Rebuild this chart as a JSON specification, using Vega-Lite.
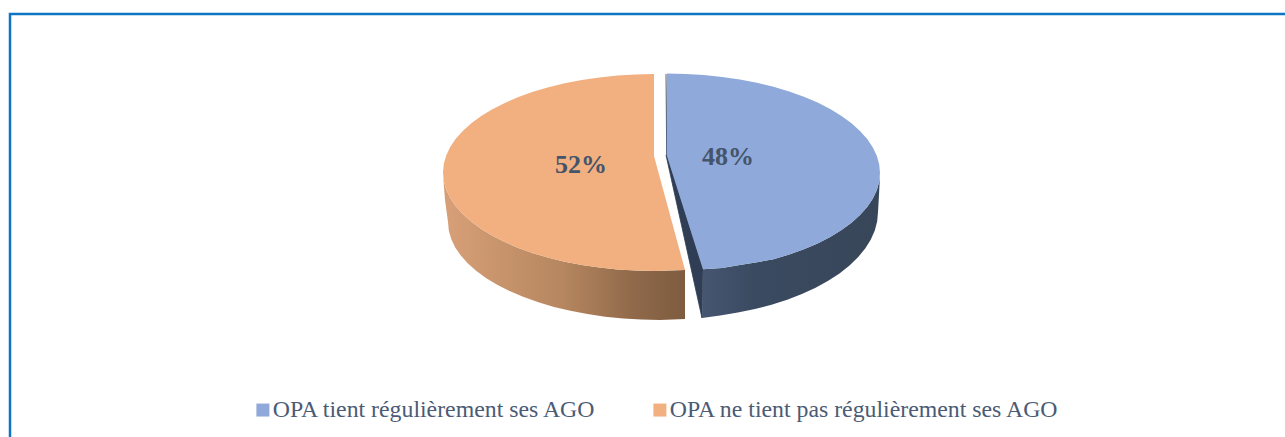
{"$schema":"https://vega.github.io/schema/vega-lite/v6.json","width":1285,"height":437,"padding":0,"autosize":{"type":"fit","contains":"padding"},"background":"white",
"config":{"view":{"stroke":null}},
"datasets":{
"frame":[{"i":0,"x":10,"y":437},{"i":1,"x":10,"y":14},{"i":2,"x":1285,"y":14}],
"labels":[{"category":"OPA tient régulièrement ses AGO","share":0.48,"x":728,"y":157},{"category":"OPA ne tient pas régulièrement ses AGO","share":0.52,"x":581,"y":165}],
"orangeSide":[{"i":0,"x":443,"y":175},{"i":1,"x":443.8,"y":181.1},{"i":2,"x":446.2,"y":189.6},{"i":3,"x":450.2,"y":198},{"i":4,"x":455.7,"y":206.2},{"i":5,"x":462.8,"y":214.1},{"i":6,"x":471.3,"y":221.8},{"i":7,"x":481.2,"y":229},{"i":8,"x":492.4,"y":235.8},{"i":9,"x":504.8,"y":242.1},{"i":10,"x":518.4,"y":248},{"i":11,"x":533,"y":253.2},{"i":12,"x":548.5,"y":257.8},{"i":13,"x":564.8,"y":261.8},{"i":14,"x":581.8,"y":265.1},{"i":15,"x":599.4,"y":267.6},{"i":16,"x":617.4,"y":269.5},{"i":17,"x":635.6,"y":270.6},{"i":18,"x":654,"y":271},{"i":19,"x":685,"y":270},{"i":20,"x":685,"y":319},{"i":21,"x":660,"y":320},{"i":22,"x":641.5,"y":319.6},{"i":23,"x":623.2,"y":318.5},{"i":24,"x":605.1,"y":316.7},{"i":25,"x":587.5,"y":314.1},{"i":26,"x":570.4,"y":310.8},{"i":27,"x":554,"y":306.9},{"i":28,"x":538.4,"y":302.3},{"i":29,"x":523.7,"y":297.1},{"i":30,"x":510.1,"y":291.3},{"i":31,"x":497.6,"y":285},{"i":32,"x":486.3,"y":278.2},{"i":33,"x":476.4,"y":271},{"i":34,"x":467.9,"y":263.4},{"i":35,"x":460.8,"y":255.5},{"i":36,"x":455.2,"y":247.4},{"i":37,"x":451.2,"y":239},{"i":38,"x":448.8,"y":230.5},{"i":39,"x":448,"y":222},{"i":40,"x":445,"y":200}],
"blueSide":[{"i":0,"x":703,"y":269.3},{"i":1,"x":722,"y":268},{"i":2,"x":739.8,"y":265},{"i":3,"x":757,"y":262.2},{"i":4,"x":773.5,"y":259.2},{"i":5,"x":789.2,"y":254.5},{"i":6,"x":803.9,"y":249.2},{"i":7,"x":817.6,"y":243.4},{"i":8,"x":830.2,"y":237},{"i":9,"x":841.5,"y":230.1},{"i":10,"x":851.5,"y":222.8},{"i":11,"x":860,"y":215.1},{"i":12,"x":867.2,"y":207},{"i":13,"x":872.7,"y":198.8},{"i":14,"x":876.8,"y":190.3},{"i":15,"x":879.2,"y":181.7},{"i":16,"x":880,"y":175},{"i":17,"x":879,"y":195},{"i":18,"x":878,"y":212},{"i":19,"x":877.2,"y":221.3},{"i":20,"x":874.8,"y":230.6},{"i":21,"x":870.7,"y":239.7},{"i":22,"x":865.2,"y":248.6},{"i":23,"x":858,"y":257.2},{"i":24,"x":849.5,"y":265.5},{"i":25,"x":839.5,"y":273.4},{"i":26,"x":828.2,"y":280.8},{"i":27,"x":815.6,"y":287.7},{"i":28,"x":801.9,"y":294},{"i":29,"x":787.2,"y":299.7},{"i":30,"x":771.5,"y":304.7},{"i":31,"x":755,"y":309},{"i":32,"x":737.8,"y":312.5},{"i":33,"x":720.1,"y":315.4},{"i":34,"x":702,"y":318}],
"blueCut":[{"i":0,"x":666,"y":74},{"i":1,"x":666.7,"y":155},{"i":2,"x":703,"y":269.3},{"i":3,"x":702,"y":318},{"i":4,"x":666,"y":155}],
"tops":[
{"category":"OPA tient régulièrement ses AGO","i":0,"x":666.7,"y":155},{"category":"OPA tient régulièrement ses AGO","i":1,"x":667,"y":73.5},{"category":"OPA tient régulièrement ses AGO","i":2,"x":685.6,"y":73.9},{"category":"OPA tient régulièrement ses AGO","i":3,"x":704,"y":75},{"category":"OPA tient régulièrement ses AGO","i":4,"x":722.1,"y":76.9},{"category":"OPA tient régulièrement ses AGO","i":5,"x":739.8,"y":79.5},{"category":"OPA tient régulièrement ses AGO","i":6,"x":757,"y":82.8},{"category":"OPA tient régulièrement ses AGO","i":7,"x":773.5,"y":86.8},{"category":"OPA tient régulièrement ses AGO","i":8,"x":789.2,"y":91.5},{"category":"OPA tient régulièrement ses AGO","i":9,"x":803.9,"y":96.8},{"category":"OPA tient régulièrement ses AGO","i":10,"x":817.6,"y":102.6},{"category":"OPA tient régulièrement ses AGO","i":11,"x":830.2,"y":109},{"category":"OPA tient régulièrement ses AGO","i":12,"x":841.5,"y":115.9},{"category":"OPA tient régulièrement ses AGO","i":13,"x":851.5,"y":123.3},{"category":"OPA tient régulièrement ses AGO","i":14,"x":860,"y":130.9},{"category":"OPA tient régulièrement ses AGO","i":15,"x":867.2,"y":139},{"category":"OPA tient régulièrement ses AGO","i":16,"x":872.7,"y":147.2},{"category":"OPA tient régulièrement ses AGO","i":17,"x":876.8,"y":155.7},{"category":"OPA tient régulièrement ses AGO","i":18,"x":879.2,"y":164.3},{"category":"OPA tient régulièrement ses AGO","i":19,"x":880,"y":173},{"category":"OPA tient régulièrement ses AGO","i":20,"x":879.2,"y":181.7},{"category":"OPA tient régulièrement ses AGO","i":21,"x":876.8,"y":190.3},{"category":"OPA tient régulièrement ses AGO","i":22,"x":872.7,"y":198.8},{"category":"OPA tient régulièrement ses AGO","i":23,"x":867.2,"y":207},{"category":"OPA tient régulièrement ses AGO","i":24,"x":860,"y":215.1},{"category":"OPA tient régulièrement ses AGO","i":25,"x":851.5,"y":222.8},{"category":"OPA tient régulièrement ses AGO","i":26,"x":841.5,"y":230.1},{"category":"OPA tient régulièrement ses AGO","i":27,"x":830.2,"y":237},{"category":"OPA tient régulièrement ses AGO","i":28,"x":817.6,"y":243.4},{"category":"OPA tient régulièrement ses AGO","i":29,"x":803.9,"y":249.2},{"category":"OPA tient régulièrement ses AGO","i":30,"x":789.2,"y":254.5},{"category":"OPA tient régulièrement ses AGO","i":31,"x":773.5,"y":259.2},{"category":"OPA tient régulièrement ses AGO","i":32,"x":757,"y":262.2},{"category":"OPA tient régulièrement ses AGO","i":33,"x":739.8,"y":265},{"category":"OPA tient régulièrement ses AGO","i":34,"x":722,"y":268},{"category":"OPA tient régulièrement ses AGO","i":35,"x":703,"y":269.3},
{"category":"OPA ne tient pas régulièrement ses AGO","i":0,"x":654,"y":156},{"category":"OPA ne tient pas régulièrement ses AGO","i":1,"x":654,"y":74},{"category":"OPA ne tient pas régulièrement ses AGO","i":2,"x":635.6,"y":74.4},{"category":"OPA ne tient pas régulièrement ses AGO","i":3,"x":617.4,"y":75.5},{"category":"OPA ne tient pas régulièrement ses AGO","i":4,"x":599.4,"y":77.4},{"category":"OPA ne tient pas régulièrement ses AGO","i":5,"x":581.8,"y":79.9},{"category":"OPA ne tient pas régulièrement ses AGO","i":6,"x":564.8,"y":83.2},{"category":"OPA ne tient pas régulièrement ses AGO","i":7,"x":548.5,"y":87.2},{"category":"OPA ne tient pas régulièrement ses AGO","i":8,"x":533,"y":91.8},{"category":"OPA ne tient pas régulièrement ses AGO","i":9,"x":518.4,"y":97},{"category":"OPA ne tient pas régulièrement ses AGO","i":10,"x":504.8,"y":102.9},{"category":"OPA ne tient pas régulièrement ses AGO","i":11,"x":492.4,"y":109.2},{"category":"OPA ne tient pas régulièrement ses AGO","i":12,"x":481.2,"y":116},{"category":"OPA ne tient pas régulièrement ses AGO","i":13,"x":471.3,"y":123.3},{"category":"OPA ne tient pas régulièrement ses AGO","i":14,"x":462.8,"y":130.9},{"category":"OPA ne tient pas régulièrement ses AGO","i":15,"x":455.7,"y":138.8},{"category":"OPA ne tient pas régulièrement ses AGO","i":16,"x":450.2,"y":147},{"category":"OPA ne tient pas régulièrement ses AGO","i":17,"x":446.2,"y":155.4},{"category":"OPA ne tient pas régulièrement ses AGO","i":18,"x":443.8,"y":163.9},{"category":"OPA ne tient pas régulièrement ses AGO","i":19,"x":443,"y":172.5},{"category":"OPA ne tient pas régulièrement ses AGO","i":20,"x":443.8,"y":181.1},{"category":"OPA ne tient pas régulièrement ses AGO","i":21,"x":446.2,"y":189.6},{"category":"OPA ne tient pas régulièrement ses AGO","i":22,"x":450.2,"y":198},{"category":"OPA ne tient pas régulièrement ses AGO","i":23,"x":455.7,"y":206.2},{"category":"OPA ne tient pas régulièrement ses AGO","i":24,"x":462.8,"y":214.1},{"category":"OPA ne tient pas régulièrement ses AGO","i":25,"x":471.3,"y":221.8},{"category":"OPA ne tient pas régulièrement ses AGO","i":26,"x":481.2,"y":229},{"category":"OPA ne tient pas régulièrement ses AGO","i":27,"x":492.4,"y":235.8},{"category":"OPA ne tient pas régulièrement ses AGO","i":28,"x":504.8,"y":242.1},{"category":"OPA ne tient pas régulièrement ses AGO","i":29,"x":518.4,"y":248},{"category":"OPA ne tient pas régulièrement ses AGO","i":30,"x":533,"y":253.2},{"category":"OPA ne tient pas régulièrement ses AGO","i":31,"x":548.5,"y":257.8},{"category":"OPA ne tient pas régulièrement ses AGO","i":32,"x":564.8,"y":261.8},{"category":"OPA ne tient pas régulièrement ses AGO","i":33,"x":581.8,"y":265.1},{"category":"OPA ne tient pas régulièrement ses AGO","i":34,"x":599.4,"y":267.6},{"category":"OPA ne tient pas régulièrement ses AGO","i":35,"x":617.4,"y":269.5},{"category":"OPA ne tient pas régulièrement ses AGO","i":36,"x":635.6,"y":270.6},{"category":"OPA ne tient pas régulièrement ses AGO","i":37,"x":654,"y":271},{"category":"OPA ne tient pas régulièrement ses AGO","i":38,"x":685,"y":270}
]},
"encoding":{"x":{"field":"x","type":"quantitative","axis":null,"scale":{"domain":[0,1285],"nice":false,"zero":false}},"y":{"field":"y","type":"quantitative","axis":null,"scale":{"domain":[437,0],"nice":false,"zero":false}},"order":{"field":"i","type":"ordinal"}},
"layer":[
{"data":{"name":"frame"},"mark":{"type":"line","stroke":"#0f75c3","strokeWidth":2.5,"strokeJoin":"miter","clip":true}},
{"data":{"name":"orangeSide"},"mark":{"type":"line","strokeWidth":0,"stroke":null,"fill":{"gradient":"linear","x1":0,"y1":0,"x2":1,"y2":0,"stops":[{"offset":0,"color":"#d8a078"},{"offset":0.5,"color":"#b5865f"},{"offset":0.8,"color":"#8e6849"},{"offset":1,"color":"#7f5c40"}]}}},
{"data":{"name":"blueCut"},"mark":{"type":"line","strokeWidth":0.8,"stroke":"#2f3e54","fill":"#2f3e54"}},
{"data":{"name":"blueSide"},"mark":{"type":"line","strokeWidth":0,"stroke":null,"fill":{"gradient":"linear","x1":0,"y1":0,"x2":1,"y2":0,"stops":[{"offset":0,"color":"#465672"},{"offset":0.3,"color":"#3a4a60"},{"offset":1,"color":"#384659"}]}}},
{"data":{"name":"tops"},"mark":{"type":"line","strokeWidth":0,"stroke":null},"encoding":{"detail":{"field":"category"},"fill":{"field":"category","type":"nominal","scale":{"domain":["OPA tient régulièrement ses AGO","OPA ne tient pas régulièrement ses AGO"],"range":["#8FA9DA","#F2AF80"]},"legend":{"title":null,"orient":"none","legendX":251,"legendY":398,"padding":0,"direction":"horizontal","columns":2,"symbolType":"square","symbolSize":169,"symbolStrokeWidth":0,"symbolOpacity":1,"labelFont":"Liberation Serif","labelFontSize":23.8,"labelColor":"#4b5b75","labelLimit":0,"labelOffset":-2,"columnPadding":50}}}},
{"data":{"name":"labels"},"mark":{"type":"text","font":"Liberation Serif","fontWeight":"bold","fontSize":26,"color":"#44546A","align":"center","baseline":"middle"},"encoding":{"order":null,"text":{"field":"share","type":"quantitative","format":".0%"}}}
]}
